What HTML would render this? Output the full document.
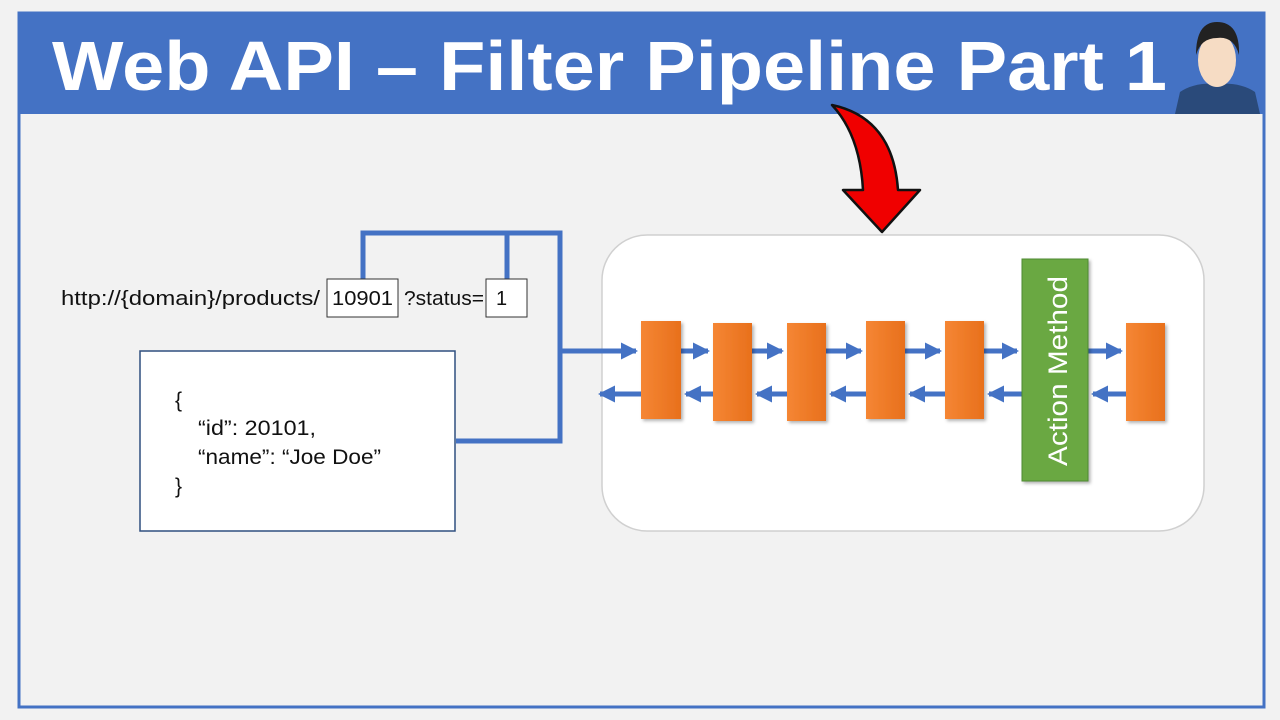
<!DOCTYPE html>
<html><head><meta charset="utf-8"><style>
html,body{margin:0;padding:0;background:#f2f2f2;}
svg{display:block;font-family:"Liberation Sans",sans-serif;}
</style></head><body>
<svg width="1280" height="720" viewBox="0 0 1280 720" xmlns="http://www.w3.org/2000/svg">
<defs>
<linearGradient id="og" x1="0" x2="1"><stop offset="0" stop-color="#f58634"/><stop offset="1" stop-color="#e8701c"/></linearGradient>
<filter id="sh" x="-20%" y="-20%" width="150%" height="150%"><feDropShadow dx="2" dy="2" stdDeviation="1.5" flood-color="#000" flood-opacity="0.3"/></filter>
<marker id="ah" markerWidth="3.4" markerHeight="3.4" refX="3" refY="1.7" orient="auto" markerUnits="strokeWidth"><path d="M0,0 L3.4,1.7 L0,3.4 Z" fill="#4472c4"/></marker>
</defs>
<rect x="0" y="0" width="1280" height="720" fill="#f2f2f2"/>
<rect x="19" y="13" width="1245" height="694" fill="#f2f2f2" stroke="#4472c4" stroke-width="3"/>
<rect x="18" y="12" width="1247" height="102" fill="#4472c4"/>
<text x="52" y="90" font-size="70" font-weight="bold" fill="#fff" textLength="1115" lengthAdjust="spacingAndGlyphs">Web API – Filter Pipeline Part 1</text>
<g>
<path d="M1175,114 L1180,92 Q1195,82 1217,84 Q1240,82 1255,92 L1260,114Z" fill="#2a4a7a"/>
<ellipse cx="1217" cy="60" rx="19" ry="27" fill="#f6dcc4"/>
<path d="M1196,55 Q1196,22 1217,22 Q1240,22 1239,55 Q1234,36 1217,38 Q1201,38 1196,55Z" fill="#222"/>
</g>
<path d="M832,105 Q893,118 898,190 L920,190 L882,232 L843,190 L863,190 Q860,135 832,105Z" fill="#f00000" stroke="#111" stroke-width="2.5" stroke-linejoin="round"/>
<rect x="602" y="235" width="602" height="296" rx="45" fill="#fff" stroke="#d0d0d0" stroke-width="1.5"/>
<g stroke="#4472c4" stroke-width="5" fill="none">
<path d="M363,280 L363,233 L560,233 L560,441 L456,441"/>
<path d="M507,233 L507,280"/>
<path d="M560,351 L636,351" marker-end="url(#ah)"/>
<path d="M641,394 L600,394" marker-end="url(#ah)"/>
<path d="M681,351 L708,351" marker-end="url(#ah)"/>
<path d="M713,394 L686,394" marker-end="url(#ah)"/>
<path d="M752,351 L782,351" marker-end="url(#ah)"/>
<path d="M787,394 L757,394" marker-end="url(#ah)"/>
<path d="M826,351 L861,351" marker-end="url(#ah)"/>
<path d="M866,394 L831,394" marker-end="url(#ah)"/>
<path d="M905,351 L940,351" marker-end="url(#ah)"/>
<path d="M945,394 L910,394" marker-end="url(#ah)"/>
<path d="M984,351 L1017,351" marker-end="url(#ah)"/>
<path d="M1022,394 L989,394" marker-end="url(#ah)"/>
<path d="M1088,351 L1121,351" marker-end="url(#ah)"/>
<path d="M1126,394 L1093,394" marker-end="url(#ah)"/>
</g>
<g fill="url(#og)" filter="url(#sh)">
<rect x="641" y="321" width="40" height="98"/>
<rect x="713" y="323" width="39" height="98"/>
<rect x="787" y="323" width="39" height="98"/>
<rect x="866" y="321" width="39" height="98"/>
<rect x="945" y="321" width="39" height="98"/>
<rect x="1126" y="323" width="39" height="98"/>
</g>
<rect x="1022" y="259" width="66" height="222" fill="#6aa842" stroke="#4f8a30" stroke-width="1" filter="url(#sh)"/>
<text transform="translate(1067,466) rotate(-90)" font-size="27" fill="#fff" textLength="190" lengthAdjust="spacingAndGlyphs">Action Method</text>
<text x="61" y="305" font-size="20" fill="#111" textLength="259" lengthAdjust="spacingAndGlyphs">http://{domain}/products/</text>
<rect x="327" y="279" width="71" height="38" fill="#fff" stroke="#333" stroke-width="1"/>
<text x="332" y="305" font-size="20" fill="#111" textLength="61" lengthAdjust="spacingAndGlyphs">10901</text>
<text x="404" y="305" font-size="20" fill="#111" textLength="80" lengthAdjust="spacingAndGlyphs">?status=</text>
<rect x="486" y="279" width="41" height="38" fill="#fff" stroke="#333" stroke-width="1"/>
<text x="496" y="305" font-size="20" fill="#111">1</text>
<rect x="140" y="351" width="315" height="180" fill="#fff" stroke="#2f4f7f" stroke-width="1.5"/>
<g font-size="21" fill="#111">
<text x="175" y="407">{</text>
<text x="198" y="435" textLength="118" lengthAdjust="spacingAndGlyphs">“id”: 20101,</text>
<text x="198" y="464" textLength="183" lengthAdjust="spacingAndGlyphs">“name”: “Joe Doe”</text>
<text x="175" y="493">}</text>
</g>
</svg>
</body></html>
